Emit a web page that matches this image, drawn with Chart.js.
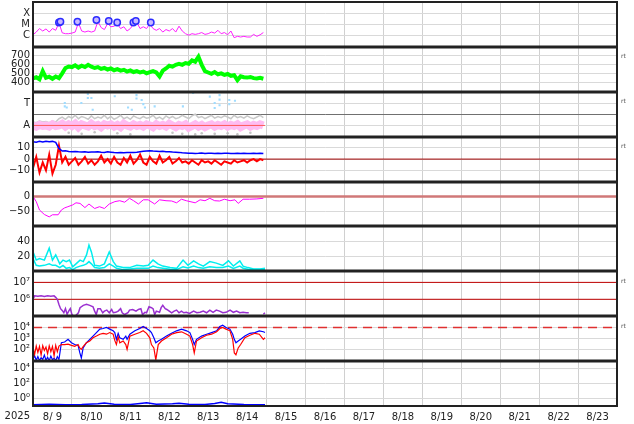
<!DOCTYPE html>
<html>
<head>
<meta charset="utf-8">
<script src="https://cdn.jsdelivr.net/npm/chart.js@4.4.1/dist/chart.umd.min.js"></script>
<style>
  html, body { margin: 0; padding: 0; background: #fff; }
</style>
</head>
<body>
<canvas id="spaceWx" width="634" height="424"></canvas>
<script>
// x axis: hours since 2025-08-09 00:00, one tick per day
const yearLabel = '2025';
const dayHours = [0, 24, 48, 72, 96, 120, 144, 168, 192, 216, 240, 264, 288, 312, 336, 360];
const dayLabels = ['8/ 9', '8/10', '8/11', '8/12', '8/13', '8/14', '8/15', '8/16',
                   '8/17', '8/18', '8/19', '8/20', '8/21', '8/22', '8/23'];

// common 2-hour time base
const hours2 = [0, 2, 4, 6, 8, 10, 12, 14, 16, 18, 20, 22,
                24, 26, 28, 30, 32, 34, 36, 38, 40, 42, 44, 46,
                48, 50, 52, 54, 56, 58, 60, 62, 64, 66, 68, 70,
                72, 74, 76, 78, 80, 82, 84, 86, 88, 90, 92, 94,
                96, 98, 100, 102, 104, 106, 108, 110, 112, 114, 116, 118,
                120, 122, 124, 126, 128, 130, 132, 134, 136, 138, 140, 142];

// panel 1: X-ray flux (uW/m2), C=1 M=10 X=100
const xrayFlux = [1.2, 2.1, 4.3, 2.6, 4.0, 2.1, 4.3, 3.0, 14, 1.8, 1.5, 1.5,
                  1.7, 2.1, 14, 2.6, 2.1, 2.6, 2.1, 2.6, 19, 5.3, 3.5, 12,
                  6.2, 7.0, 11, 4.3, 6.2, 2.6, 4.3, 11, 15, 4.3, 6.2, 4.3,
                  11, 4.3, 3.0, 4.3, 2.1, 3.5, 2.6, 4.3, 2.1, 7.0, 2.6, 1.5,
                  1.1, 1.5, 1.3, 1.5, 1.9, 1.3, 1.5, 2.1, 1.7, 3.0, 1.5, 1.9,
                  1.2, 2.6, 0.66, 0.87, 0.76, 0.87, 0.76, 0.76, 1.3, 0.87, 1.2, 1.9];
const flareHours = [16.0, 16.9, 27.4, 39.1, 46.7, 51.9, 61.9, 63.4, 72.6];
const flarePeaks = [15, 17.5, 17.5, 25, 20, 15, 15, 20, 15];

// panel 2: solar wind speed (km/s)
const windSpeed = [450, 462, 440, 530, 455, 468, 445, 470, 452, 505, 565, 580,
                   575, 595, 570, 590, 575, 600, 580, 565, 575, 555, 565, 548,
                   560, 540, 552, 535, 545, 525, 538, 520, 530, 515, 525, 505,
                   518, 530, 515, 470, 535, 560, 590, 580, 600, 610, 600, 620,
                   612, 650, 635, 690, 600, 530, 515, 500, 520, 495, 505, 488,
                   498, 478, 485, 430, 472, 462, 458, 465, 452, 448, 455, 445];

// panel 3: T / A levels
const levelA = [1.0, 0.9, 1.05, 0.95, 1.0, 0.9, 1.1, 0.95, 1.0, 1.15, 0.9, 1.1,
                0.95, 1.15, 0.85, 1.1, 1.0, 0.9, 1.15, 0.95, 1.05, 0.85, 1.1, 1.0,
                1.1, 0.9, 1.05, 0.85, 1.15, 1.0, 0.9, 1.1, 0.95, 1.05, 0.9, 1.1,
                1.0, 0.85, 1.1, 0.95, 1.05, 0.9, 1.15, 1.0, 0.85, 1.05, 0.95, 1.1,
                0.8, 0.95, 1.1, 0.9, 1.05, 0.85, 1.0, 1.1, 0.9, 1.05, 0.95, 1.1,
                0.9, 1.05, 0.95, 1.1, 0.85, 1.0, 1.1, 0.9, 1.05, 0.95, 1.1, 1.0];
const grayHi = [1.3, 1.25, 1.4, 1.3, 1.35, 1.25, 1.4, 1.3, 1.6, 1.75, 1.55, 1.8,
                1.65, 1.9, 1.6, 1.8, 1.7, 1.55, 1.85, 1.6, 1.75, 1.65, 1.9, 1.6,
                1.8, 1.55, 1.7, 1.9, 1.6, 1.75, 1.55, 1.85, 1.7, 1.6, 1.8, 1.65,
                1.7, 1.9, 1.6, 1.75, 1.55, 1.85, 1.65, 1.8, 1.6, 1.7, 1.9, 1.75,
                1.6, 1.85, 2.0, 1.7, 1.8, 1.6, 1.75, 1.9, 1.65, 1.8, 1.7, 1.85,
                1.75, 1.6, 1.9, 1.7, 1.8, 1.65, 1.85, 1.7, 1.6, 1.75, 1.9, 1.7];
const grayLoHours = [22, 30, 38, 52, 60, 86, 92, 100, 104, 112, 120, 126, 134];
const grayLoVals = [0.35, 0.25, 0.4, 0.3, 0.2, 0.35, 0.25, 0.2, 0.3, 0.25, 0.3, 0.2, 0.35];
const tHours = [19.6, 19.6, 20.8, 29.8, 33.8, 33.8, 36, 36.8, 50.4, 58.6,
                60.9, 63.8, 63.8, 67, 68, 69, 75, 92.4, 98.7, 109,
                112, 112, 115, 115, 115, 121, 121, 124.5];
const tVals = [3.0, 2.7, 2.6, 3.0, 3.8, 3.45, 3.45, 2.4, 3.6, 2.6,
               2.4, 3.7, 3.4, 3.27, 2.9, 2.6, 2.7, 2.7, 3.9, 3.57,
               3.0, 2.55, 3.7, 3.3, 2.8, 3.27, 2.9, 3.2];

// panel 4: IMF Bt / Bz (nT)
const bt = [15.5, 15.0, 15.8, 15.2, 16.0, 15.5, 15.8, 15.0, 9.5, 7.2, 7.5, 6.8,
            6.6, 6.8, 6.5, 6.4, 6.6, 6.2, 6.4, 6.3, 6.5, 6.2, 6.0, 6.6,
            6.2, 5.8, 5.7, 5.9, 5.6, 5.8, 6.0, 5.9, 6.2, 6.6, 6.9, 7.2,
            7.5, 7.2, 7.0, 6.8, 6.9, 6.6, 6.5, 6.3, 6.2, 6.0, 5.6, 5.4,
            5.2, 5.3, 5.1, 5.2, 5.4, 5.1, 5.3, 5.2, 5.0, 5.2, 5.1, 5.3,
            5.2, 5.0, 5.1, 5.3, 5.0, 5.2, 5.1, 5.0, 5.2, 5.1, 5.3, 5.1];
const bz = [-8, 2, -12, -3, -10, 4, -13, -5, 12, -3, 2, -5,
            -2, 1, -5, -2, 2, -4, -1, -5, -2, 3, -3, 0,
            -4, 2, -3, -5, 1, -3, 3, -4, -1, 4, -3, -5,
            2, -2, -4, 3, -3, -1, 2, -4, -2, 1, -3, -2,
            -4, -1, -3, -5, -1, -3, -2, -4, -1, -3, -5, -2,
            -3, -4, -1, -3, -2, -1, -3, -1, 0, -2, 0, -1];

// panel 5: Dst (nT)
const dstHours = [0, 2, 4, 7, 10, 12, 15.5, 17.5, 19.5, 21.5, 24.5, 26.5, 29, 32, 34.5, 38,
                  41, 44, 47, 50.5, 53.5, 56.5, 59.5, 62, 65, 68, 71, 75, 78, 82, 85.5, 88.5,
                  91.5, 94.5, 100, 103, 106, 109, 112, 115, 118, 121.5, 124.5, 126.5, 129.5, 133.5, 138, 142];
const dstVals = [0, -17, -45, -60, -68, -61, -61, -45, -38, -34, -28, -21, -23, -37, -25, -40,
                 -34, -40, -25, -17, -14, -19, -6, -14, -25, -11, -11, -25, -11, -14, -15, -21,
                 -9, -14, -21, -11, -14, -6, -14, -15, -9, -14, -11, -23, -9, -9, -8, -6];

// panel 6: two cyan traces
const cyanHours = [0, 2, 4, 7, 10, 12, 14, 16.5, 18.5, 20.5, 22.5, 24.5, 26.5, 29, 31, 33, 34.5,
                   36, 38, 41, 44, 47, 49.5, 51.5, 55.5, 59.5, 64, 68, 71, 74, 77, 80, 84.5,
                   88.5, 92.5, 95.5, 99, 102, 105, 109, 113, 117, 120.5, 123.5, 127.5, 129.5, 132.5, 136, 140, 143];
const cyanUpper = [26, 15, 17, 15, 31, 15, 22, 10, 15, 13, 15, 6, 10, 15, 13, 22, 35,
                   26, 8, 7, 10, 26, 13, 7, 5, 5, 8, 7, 8, 15, 10, 7, 5,
                   4, 15, 8, 14, 10, 7, 13, 11, 8, 14, 7, 14, 7, 5, 3, 3, 4];
const cyanLower = [17, 8, 7, 8, 10, 8, 8, 5, 8, 4, 5, 2.3, 5, 7, 8, 10, 13,
                   10, 5, 4, 5, 10, 7, 4, 2.3, 3, 4, 4, 4, 7, 5, 4, 2.7,
                   2.3, 6, 4.5, 7, 5, 4, 6, 5, 5, 7, 4, 7, 4, 2.7, 2.3, 2.3, 2.3];

// panel 7: electron flux
const elecHours = [0, 1, 3, 5, 7, 9, 11, 13, 14, 15, 16, 17, 18, 19, 20, 21, 22, 23, 24, 25.5,
                   28, 29, 31, 33, 35, 37, 38, 39, 40, 41.5, 43, 44, 45.5, 47, 48.5, 49.5, 51, 52.5, 54, 55,
                   56.5, 58.5, 59.5, 61.5, 63.5, 65, 66.5, 67.5, 69, 70, 71.5, 73, 74, 75, 76, 78, 79, 80, 81.5, 82.5,
                   84, 85.5, 87, 88.5, 90, 91.5, 93, 94.5, 96.5, 99, 101, 103, 105, 107, 109, 111, 113, 115, 117, 119,
                   121.5, 123.5, 125.5, 127.5, 129.5, 131.5, 133, 134, 142, 143];
const elecFlux = [1.0e6, 1.6e6, 1.5e6, 1.6e6, 1.45e6, 1.6e6, 1.5e6, 1.6e6, 1.3e6, 1.0e6,
                  5e5, 2.8e5, 2.2e5, 1.6e5, 2.8e5, 1.3e5, 2.0e5, 2.8e5, 1.26e5, 9e4,
                  1.6e5, 3.2e5, 4.4e5, 5e5, 4.4e5, 3.6e5, 2.0e5, 1.26e5, 2.8e5, 2.8e5,
                  1.6e5, 2.0e5, 2.3e5, 1.6e5, 2.5e5, 1.6e5, 1.7e5, 2.0e5, 2.8e5, 1.6e5,
                  1.26e5, 1.6e5, 2.3e5, 2.5e5, 2.0e5, 2.5e5, 2.8e5, 1.26e5, 1.7e5, 1.6e5,
                  3.6e5, 3.2e5, 2.8e5, 1.26e5, 2.0e5, 1.7e5, 3.2e5, 4.4e5, 2.8e5, 2.5e5,
                  2.0e5, 1.6e5, 2.0e5, 2.3e5, 1.6e5, 2.0e5, 1.6e5, 1.7e5, 1.45e5, 2.0e5,
                  1.6e5, 1.7e5, 2.0e5, 1.6e5, 2.3e5, 1.7e5, 2.3e5, 2.0e5, 1.6e5, 1.7e5,
                  2.3e5, 1.7e5, 2.0e5, 1.6e5, 1.7e5, 1.6e5, 1.6e5, null, 1.3e5, 1.6e5];

// panel 8: red / blue log traces
const p8Hours = [0, 1, 2, 3, 4, 5, 6, 7, 8, 9, 10, 11, 12, 13, 14, 15, 16,
                 17.5, 19.5, 21.6, 23.7, 25.7, 27.8, 28.8, 29.8, 30.9, 32.9,
                 35, 37, 39.1, 41.2, 43.2, 45.3, 47.3, 49.4, 50.4, 51.4,
                 52.5, 53.5, 55.6, 57.2, 58, 59.7, 62.8, 65.8, 67.9, 70,
                 72, 73, 74.5, 75.7, 77.2, 79.2, 82.3, 85.4, 88.5, 91.6,
                 94.7, 96.7, 98.4, 99.4, 100.8, 103.9, 107, 110.1, 113.2, 115.2,
                 116.9, 119, 121.4, 123.1, 124.1, 125.1, 126.5, 128, 130.6, 133.7,
                 136.8, 139.5, 142, 143];
const p8Red = [150, 40, 220, 60, 200, 35, 240, 90, 180, 45, 230, 70, 200, 30, 250, 70, 220,
               300, 300, 330, 250, 210, 300, 150, 110, 200, 430,
               620, 1200, 1700, 2500, 3000, 2500, 3500, 2500, 700, 300,
               1500, 430, 620, 300, 110, 1700, 2500, 3500, 5000, 3000,
               1200, 300, 150, 13, 300, 620, 1200, 2500, 3500, 4100,
               2500, 1700, 300, 54, 620, 1200, 2000, 2500, 4100, 8100,
               10000, 7100, 5000, 870, 54, 37, 150, 300, 1200, 2000,
               3000, 2500, 870, 1200];
const p8Blue = [15, 30, 12, 25, 11, 20, 14, 35, 12, 22, 11, 28, 13, 18, 11, 25, 14,
                430, 500, 870, 430, 300, 250, 60, 19, 150, 430,
                870, 1700, 3500, 7100, 8100, 10000, 7100, 5000, 3500, 870,
                3000, 1200, 870, 1700, 870, 2500, 5000, 8100, 12300, 8100,
                5000, 3500, 1200, 430, 620, 870, 1700, 3000, 5000, 7100,
                5000, 3500, 870, 300, 870, 1700, 2500, 3500, 5000, 12300,
                16000, 10000, 7100, 2500, 870, 430, 620, 870, 1700, 3000,
                3500, 5000, 4100, 3500];

// panel 9: blue log trace
const p9Hours = [0, 10, 20, 30, 40, 44, 50, 60, 66, 70, 76, 86, 90, 96, 106, 112, 116, 120, 130, 143];
const p9Vals = [0.15, 0.17, 0.15, 0.16, 0.2, 0.26, 0.17, 0.16, 0.22, 0.27,
                0.17, 0.2, 0.24, 0.17, 0.16, 0.22, 0.32, 0.2, 0.16, 0.15];

const panelIds = ['y1', 'y2', 'y3', 'y4', 'y5', 'y6', 'y7', 'y8', 'y9'];
const rtPanels = ['y2', 'y3', 'y4', 'y7', 'y8'];

function pts(xs, ys) { return xs.map((x, i) => ({ x: x, y: ys[i] })); }
function hline(y, x0, x1) { return [{ x: x0, y: y }, { x: x1, y: y }]; }
function series(axis, data, color, width, extra) {
  return Object.assign({
    yAxisID: axis, data: data, borderColor: color, backgroundColor: color,
    borderWidth: width, pointRadius: 0, fill: false, spanGaps: false
  }, extra || {});
}
function dots(axis, data, color, r, style) {
  return series(axis, data, color, 0, { showLine: false, pointRadius: r, pointStyle: style || 'circle' });
}

function panelAxis(order, type, min, max, tickVals, tickText, gridColor) {
  return {
    type: type, position: 'left', stack: 'panels', stackWeight: 1, weight: 10 - order,
    min: min, max: max,
    grid: { color: gridColor || '#d9d9d9', drawTicks: false },
    border: { color: '#222', width: 1.5 },
    ticks: { color: '#222', padding: 3, autoSkip: false, callback: (v, i) => tickText[i] },
    afterBuildTicks: s => { s.ticks = tickVals.map(v => ({ value: v })); },
    afterFit: s => { s.width = 33; s.paddingTop = 0; s.paddingBottom = 0; }
  };
}

// keep each dataset inside its own panel
const panelClip = {
  id: 'panelClip',
  beforeDatasetDraw(chart, args) {
    const ys = chart.scales[args.meta.yAxisID];
    const a = chart.chartArea;
    chart.ctx.save();
    chart.ctx.beginPath();
    chart.ctx.rect(a.left, ys.top, a.right - a.left, ys.bottom - ys.top);
    chart.ctx.clip();
  },
  afterDatasetDraw(chart) { chart.ctx.restore(); }
};

const frame = {
  id: 'frame',
  afterDraw(chart) {
    const ctx = chart.ctx, a = chart.chartArea;
    ctx.save();
    ctx.strokeStyle = '#222';
    ctx.lineWidth = 3;
    panelIds.slice(0, -1).forEach(id => {
      const y = Math.round(chart.scales[id].bottom);
      ctx.beginPath(); ctx.moveTo(a.left, y); ctx.lineTo(a.right, y); ctx.stroke();
    });
    ctx.lineWidth = 2;
    ctx.strokeRect(a.left, a.top, a.right - a.left, a.bottom - a.top);
    ctx.fillStyle = '#222';
    ctx.font = "10px 'DejaVu Sans'";
    ctx.textAlign = 'right';
    ctx.textBaseline = 'top';
    ctx.fillText(yearLabel, 30, chart.scales.x.top + 5);
    ctx.font = "6px 'DejaVu Sans'";
    ctx.fillStyle = '#555';
    ctx.textAlign = 'left';
    ctx.textBaseline = 'middle';
    rtPanels.forEach(id => ctx.fillText('rt', a.right + 4, chart.scales[id].top + 10));
    ctx.restore();
  }
};

Chart.defaults.font.family = "'DejaVu Sans', sans-serif";
Chart.defaults.font.size = 10;

new Chart(document.getElementById('spaceWx'), {
  type: 'line',
  data: {
    datasets: [
      series('y1', pts(flareHours, flarePeaks), '#2b2bff', 1.5,
             { showLine: false, pointRadius: 3.2, pointBackgroundColor: '#c8b8ff',
               pointBorderColor: '#2b2bff', pointBorderWidth: 1.5 }),
      series('y1', pts(hours2, xrayFlux), '#ff20ff', 1),
      series('y2', pts(hours2, windSpeed), '#00ff00', 4),
      dots('y3', pts(tHours, tVals), '#a0dcff', 1.5, 'rect'),
      series('y3', hline(1, 0, 143), '#ff5a5a', 1),
      series('y3', pts(hours2, levelA), '#ffbcf2', 8),
      dots('y3', pts(grayLoHours, grayLoVals), '#c4c4c4', 1.3),
      series('y3', pts(hours2, grayHi), '#c8c8c8', 1.5),
      series('y4', pts(hours2, bt), '#0000ff', 1.5),
      series('y4', pts(hours2, bz), '#ff0000', 2),
      series('y4', hline(0, 0, 360), '#a00000', 1),
      series('y5', pts(dstHours, dstVals), '#ff00ff', 1),
      series('y5', hline(0, 0, 360), '#d07878', 2.5),
      series('y6', pts(cyanHours, cyanUpper), '#00eeee', 1.5),
      series('y6', pts(cyanHours, cyanLower), '#00eeee', 1.5),
      series('y7', pts(elecHours, elecFlux), '#9a30d0', 1.5),
      series('y7', hline(1e7, 0, 360), '#c00000', 1),
      series('y7', hline(1e6, 0, 360), '#c00000', 1),
      series('y8', pts(p8Hours, p8Red), '#ff0000', 1.2),
      series('y8', pts(p8Hours, p8Blue), '#0000ff', 1.2),
      series('y8', hline(1e4, 0, 360), '#e03030', 1.5, { borderDash: [9, 6] }),
      series('y9', pts(p9Hours, p9Vals), '#0000ff', 1.5)
    ]
  },
  options: {
    responsive: false,
    animation: false,
    devicePixelRatio: 1,
    layout: { autoPadding: false, padding: { left: 0, right: 17, top: 2, bottom: 0 } },
    plugins: { legend: { display: false }, tooltip: { enabled: false } },
    scales: {
      x: {
        type: 'linear', position: 'bottom', min: 0, max: 360,
        grid: { color: '#d0d0d0', drawTicks: false },
        border: { color: '#222', width: 2 },
        ticks: { color: '#222', padding: 5, autoSkip: false, maxRotation: 0, labelOffset: 19.5,
                 callback: (v, i) => dayLabels[i] || '' },
        afterBuildTicks: s => { s.ticks = dayHours.map(v => ({ value: v })); },
        afterFit: s => { s.height = 18; s.paddingLeft = 0; s.paddingRight = 0; }
      },
      y1: panelAxis(1, 'logarithmic', 0.1, 1000, [1, 10, 100], ['C', 'M', 'X']),
      y2: panelAxis(2, 'linear', 300, 800, [400, 500, 600, 700], ['400', '500', '600', '700']),
      y3: panelAxis(3, 'linear', 0, 4, [1, 2, 3], ['A', '', 'T'],
                    c => (c.tick && c.tick.value === 2) ? '#707070' : '#d9d9d9'),
      y4: panelAxis(4, 'linear', -20, 20, [-10, 0, 10], ['\u221210', '0', '10']),
      y5: panelAxis(5, 'linear', -100, 50, [-50, 0], ['\u221250', '0']),
      y6: panelAxis(6, 'linear', 0, 60, [20, 40], ['20', '40']),
      y7: panelAxis(7, 'logarithmic', 1e5, 4.5e7, [1e6, 1e7], ['10\u2076', '10\u2077']),
      y8: panelAxis(8, 'logarithmic', 10, 1e5, [1e2, 1e3, 1e4], ['10\u00b2', '10\u00b3', '10\u2074']),
      y9: panelAxis(9, 'logarithmic', 0.1, 1e5, [1, 1e2, 1e4], ['10\u2070', '10\u00b2', '10\u2074'])
    }
  },
  plugins: [panelClip, frame]
});
</script>
</body>
</html>
